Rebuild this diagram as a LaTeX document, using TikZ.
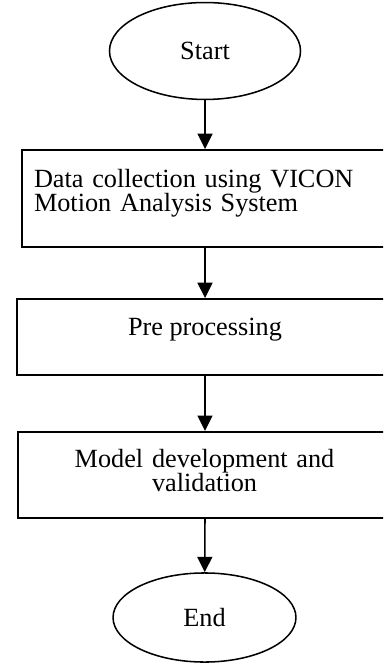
\documentclass[tikz,border=0pt]{standalone}
\usepackage{fontspec}
\setmainfont{Liberation Serif}
\usetikzlibrary{arrows.meta,shapes.geometric}

\begin{document}
\begin{tikzpicture}
    [
      x=0.457pt, y=-0.457pt,
      every node/.style={font=\fontsize{12pt}{11.2pt}\selectfont},
      terminal/.style={ellipse,draw,line width=0.7pt,inner sep=0pt},
      stepbox/.style={rectangle,draw,line width=0.9pt,anchor=west,inner xsep=5.5pt,inner ysep=0pt,text height=8pt},
      post/.style={-{Triangle[width=6.8pt,length=7pt]},line width=0.7pt},
    ]

    \useasboundingbox (0,0) rectangle (383,664);
    \clip (0,0) rectangle (383,664);

    \node (start) [terminal,minimum width=87.3pt,minimum height=44.3pt] at (205,51) {Start};

    \node (collect) [stepbox,minimum width=169.5pt,minimum height=44.3pt,text width=158.5pt,align=left,text depth=18.5pt] at (21,198.5) {Data collection using VICON\\Motion Analysis System};

    \node (prep) [stepbox,minimum width=171.8pt,minimum height=34.7pt,text depth=9.8pt] at (16,337) {Pre processing};

    \node (model) [stepbox,minimum width=170.5pt,minimum height=39.3pt,text width=159.5pt,align=center,text depth=15.3pt] at (17,475) {Model development and\\validation};

    \node (stop) [terminal,minimum width=83.6pt,minimum height=40.7pt] at (204.5,617.5) {End};

    \path
    (start) edge [post] (start |- collect.north)
    (collect.south -| start) edge [post] (start |- prep.north)
    (prep.south -| start) edge [post] (start |- model.north)
    (model.south -| start) edge [post] (stop)
    ;

  \end{tikzpicture}
\end{document}
